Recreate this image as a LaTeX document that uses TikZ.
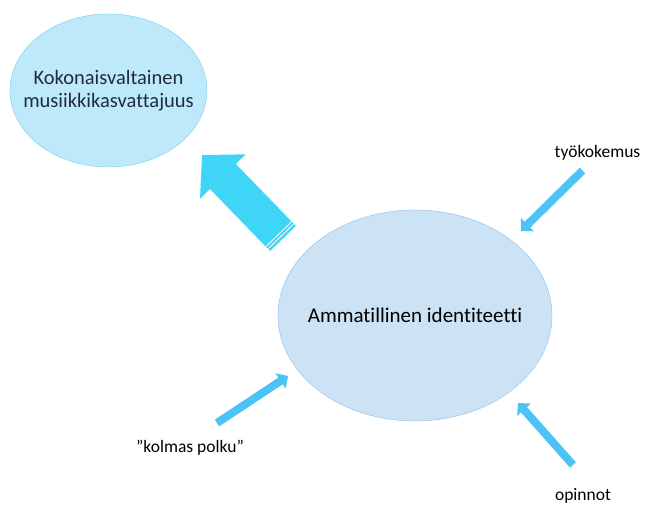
\documentclass[tikz,border=0pt]{standalone}
\usepackage{fontspec}
\setmainfont{Carlito}[Ligatures={NoCommon}]
\usetikzlibrary{arrows.meta,shapes.geometric,calc}

\definecolor{pallo1}{HTML}{BEE9FB}
\definecolor{reuna1}{HTML}{74CEF2}
\definecolor{pallo2}{HTML}{CCE3F6}
\definecolor{reuna2}{HTML}{8CBDEB}
\definecolor{isosininen}{HTML}{3ED5F7}
\definecolor{nuoli}{HTML}{4BC4F5}
\definecolor{tumma}{HTML}{1F2D3A}

\begin{document}
\begin{tikzpicture}[x=1pt,y=1pt,
  pallo/.style={ellipse, inner ysep=0pt, inner xsep=-60pt, align=center},
  pieninuoli/.style={draw=nuoli, line width=8pt, -{Triangle[width=18pt,length=9pt]}},
  teksti/.style={font=\fontsize{17.5}{21}\selectfont, text=black, anchor=base}]
  \useasboundingbox (0,0) rectangle (645,504);

  \node[pallo, draw=reuna1, fill=pallo1, minimum width=197pt, minimum height=153pt,
        font=\fontsize{20.5}{23}\selectfont, text=tumma] (K) at (108.5,413.5)
        {Kokonaisvaltainen\\musiikkikasvattajuus};
  \node[pallo, draw=reuna2, fill=pallo2, minimum width=274pt, minimum height=211pt,
        font=\fontsize{21}{25}\selectfont, text=black] (A) at (415,188.5)
        {Ammatillinen identiteetti};

  % iso nuoli kohti vasenta palloa
  \coordinate (ib) at (283,265.5);
  \coordinate (ik) at (202,349);
  \draw[draw=isosininen, line width=36pt, -{Triangle[width=62pt,length=30pt]}] (ib) -- (ik);
  \foreach \d in {3,6} {
    \coordinate (p) at ($(ib)!\d pt!(ik)$);
    \draw[white, line width=0.8pt] ($(p)!18pt!90:(ik)$) -- ($(p)!18pt!-90:(ik)$);
  }

  \node[teksti] (tyo) at (597.5,346) {työkokemus};
  \node[teksti] (kolmas) at (190,52) {”kolmas polku”};
  \node[teksti] (opinnot) at (583,4) {opinnot};

  % pienet nuolet
  \coordinate (t1) at (582.5,333.5);
  \coordinate (t2) at (521,273);
  \coordinate (k1) at (217,81);
  \coordinate (k2) at (288,128);
  \coordinate (o1) at (573,39);
  \coordinate (o2) at (518,101);
  \draw[pieninuoli] (t1) -- (t2);
  \draw[pieninuoli] (k1) -- (k2);
  \draw[pieninuoli] (o1) -- (o2);
\end{tikzpicture}
\end{document}
